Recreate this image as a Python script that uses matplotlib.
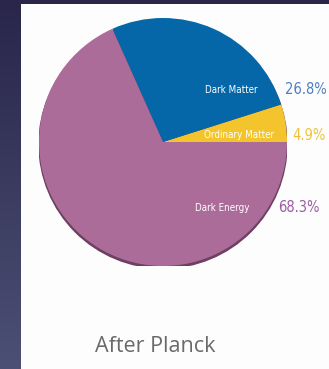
import numpy as np
import matplotlib
matplotlib.use("Agg")
import matplotlib.pyplot as plt
from matplotlib.patches import Circle

# Composition of the universe after Planck
components = ["Ordinary Matter", "Dark Matter", "Dark Energy"]
shares = [4.9, 26.8, 68.3]
slice_colors = ["#f3c42c", "#0667a8", "#ac6c99"]
value_colors = ["#f0c23a", "#4d80c2", "#9b5ca4"]
title = "After Planck"

W, H, DPI = 329, 369, 100
fig = plt.figure(figsize=(W / DPI, H / DPI), dpi=DPI)

# dark navy backdrop with a soft vertical gradient
bg = fig.add_axes([0, 0, 1, 1])
grad = np.linspace(0, 1, 256)[:, None]
cmap = matplotlib.colors.LinearSegmentedColormap.from_list(
    "navy", ["#29264a", "#4b5074"])
bg.imshow(grad, aspect="auto", cmap=cmap, extent=[0, 1, 0, 1], origin="upper")
bg.set_axis_off()

# white panel
panel = fig.add_axes([21 / W, 0, 1 - 21 / W, (H - 4) / H])
panel.set_facecolor("#fdfdfd")
panel.set_xticks([]); panel.set_yticks([])
for s in panel.spines.values():
    s.set_visible(False)

# pie area
cx, cy, r = 163, 142, 124
ax = fig.add_axes([(cx - r) / W, (H - cy - r) / H, 2 * r / W, 2 * r / H])
ax.set_xlim(-1, 1); ax.set_ylim(-1, 1)
ax.set_aspect("equal")
ax.set_axis_off()

# faint drop shadow along the lower rim
ax.add_patch(Circle((0.0, -0.018), 1.0, color="#6e3f62", zorder=0))
ax.pie(shares, colors=slice_colors, startangle=0, counterclock=True,
       radius=1.0, wedgeprops=dict(linewidth=0))
ax.set_xlim(-1, 1); ax.set_ylim(-1, 1)

# label rows: (name x, percent x, y) in axes data units
label_pos = {
    "Dark Matter": (0.548, 0.984, 0.42),
    "Ordinary Matter": (0.613, 1.04, 0.055),
    "Dark Energy": (0.476, 0.927, -0.53),
}
for name, val, vcol in zip(components, shares, value_colors):
    lx, px, ly = label_pos[name]
    ax.text(lx, ly, name, color="white", fontsize=7, ha="center",
            va="center", family="DejaVu Sans", fontstretch="condensed",
            zorder=5)
    ax.text(px, ly, f"{val:.1f}%", color=vcol, fontsize=10.5, ha="left",
            va="center", family="DejaVu Sans", fontstretch="condensed",
            clip_on=False, zorder=5)

fig.text(155.5 / W, 1 - 347 / H, title, ha="center", va="center",
         fontsize=15.5, color="#6a6a6a", family="Open Sans")

fig.savefig("out.png", dpi=DPI)
